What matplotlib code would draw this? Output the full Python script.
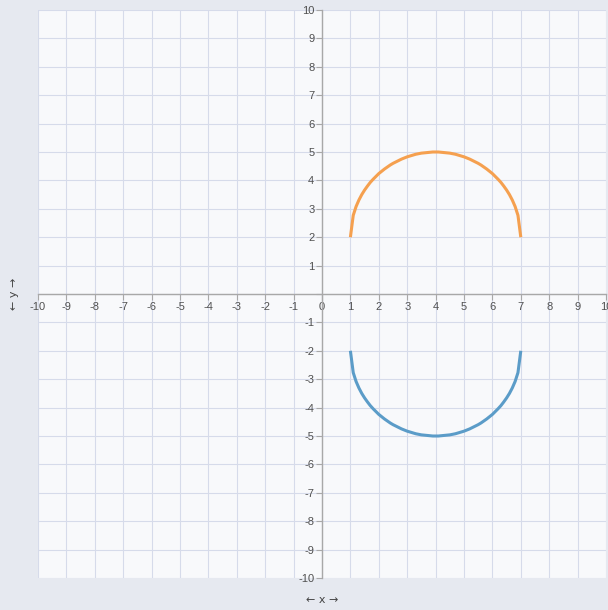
import matplotlib
matplotlib.use("Agg")
import matplotlib.pyplot as plt

# semicircle samples (x step 0.1 from 1 to 7)
xs = [1.0, 1.1, 1.2, 1.3, 1.4, 1.5, 1.6, 1.7, 1.8, 1.9, 2.0,
      2.1, 2.2, 2.3, 2.4, 2.5, 2.6, 2.7, 2.8, 2.9, 3.0,
      3.1, 3.2, 3.3, 3.4, 3.5, 3.6, 3.7, 3.8, 3.9, 4.0,
      4.1, 4.2, 4.3, 4.4, 4.5, 4.6, 4.7, 4.8, 4.9, 5.0,
      5.1, 5.2, 5.3, 5.4, 5.5, 5.6, 5.7, 5.8, 5.9, 6.0,
      6.1, 6.2, 6.3, 6.4, 6.5, 6.6, 6.7, 6.8, 6.9, 7.0]
upper_y = [2.00, 2.77, 3.08, 3.31, 3.50, 3.66, 3.80, 3.93, 4.04, 4.14, 4.24,
           4.32, 4.40, 4.47, 4.54, 4.60, 4.65, 4.70, 4.75, 4.79, 4.83,
           4.86, 4.89, 4.92, 4.94, 4.96, 4.97, 4.98, 4.99, 5.00, 5.00,
           5.00, 4.99, 4.98, 4.97, 4.96, 4.94, 4.92, 4.89, 4.86, 4.83,
           4.79, 4.75, 4.70, 4.65, 4.60, 4.54, 4.47, 4.40, 4.32, 4.24,
           4.14, 4.04, 3.93, 3.80, 3.66, 3.50, 3.31, 3.08, 2.77, 2.00]
lower_y = [-v for v in upper_y]

ticks = list(range(-10, 11))
x_labels = [str(t) for t in ticks]
y_labels = ["" if t == 0 else str(t) for t in ticks]

plt.rcParams["font.family"] = ["Liberation Sans", "DejaVu Sans"]

fig = plt.figure(figsize=(6.08, 6.10), dpi=100, facecolor="#e6e9f0")
ax = fig.add_axes([38 / 608, 32 / 610, 568 / 608, 568 / 610])
ax.set_facecolor("#f8f9fb")

ax.plot(xs, upper_y, color="#f5a04f", lw=2.2, solid_capstyle="butt", zorder=3)
ax.plot(xs, lower_y, color="#5b9cc8", lw=2.2, solid_capstyle="butt", zorder=3)

ax.set_xlim(-10, 10)
ax.set_ylim(-10, 10)
ax.set_xticks(ticks)
ax.set_yticks(ticks)
ax.set_xticklabels(x_labels)
ax.set_yticklabels(y_labels)
ax.grid(True, color="#d6dbea", lw=0.8)
ax.set_axisbelow(True)

for side in ("top", "right"):
    ax.spines[side].set_visible(False)
for side in ("left", "bottom"):
    ax.spines[side].set_position("zero")
    ax.spines[side].set_color("#a8a8a8")
    ax.spines[side].set_linewidth(1.0)

ax.tick_params(axis="both", direction="out", length=4, width=0.8,
               color="#a8a8a8", labelcolor="#505050", labelsize=8, pad=1.5)

fig.text(14 / 608, 1 - 294 / 610, "\u2190 y \u2192", rotation=90, ha="center", va="center",
         fontsize=8, color="#444444", family="DejaVu Sans")
fig.text(322 / 608, 1 - 600 / 610, "\u2190 x \u2192", ha="center", va="center",
         fontsize=8, color="#444444", family="DejaVu Sans")

fig.savefig("out.png", dpi=100, facecolor=fig.get_facecolor())
